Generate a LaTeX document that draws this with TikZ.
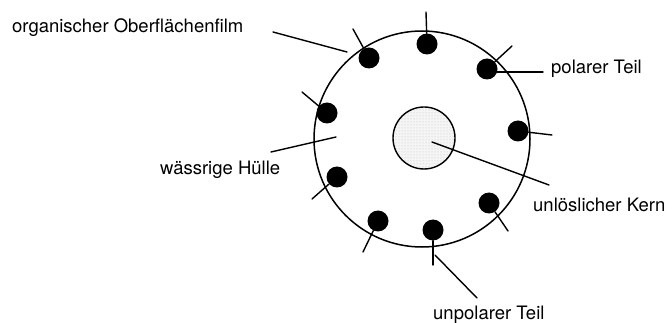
\documentclass[tikz,border=0pt]{standalone}
\usepackage{fontspec}
\setmainfont{TeX Gyre Heros}
\usetikzlibrary{patterns}
\begin{document}
\begin{tikzpicture}[x=1pt,y=-1pt,
  lbl/.style={inner sep=0pt,anchor=base west,font=\fontsize{18.5}{20}\selectfont},
  dot/.style={circle,fill=black,draw=none,minimum size=21pt,inner sep=0pt},
  ln/.style={line width=1.4pt,line cap=round}]
\useasboundingbox (0,0) rectangle (672,323);
% main droplet
\node[circle,draw,line width=1.5pt,minimum size=216pt,inner sep=0pt] (shell) at (422,139) {};
\node[circle,fill=black!4,minimum size=62pt,inner sep=0pt] (corebg) at (424,138) {};
\node[circle,draw,line width=1.4pt,pattern=dots,pattern color=black!25,minimum size=62pt,inner sep=0pt] (core) at (424,138) {};
\coordinate (corec) at (432,142);
% dots
\node[dot] (d1) at (427,44) {};
\node[dot] (d2) at (369,58) {};
\node[dot] (d3) at (487,69) {};
\node[dot] (d4) at (518,131) {};
\node[dot] (d5) at (327,113) {};
\node[dot] (d6) at (337,177) {};
\node[dot] (d7) at (378,221) {};
\node[dot] (d8) at (433,230) {};
\node[dot] (d9) at (489,203) {};
% tails
\coordinate (t1) at (426,12);
\coordinate (t2) at (353,29);
\coordinate (t3) at (512,46);
\coordinate (t4) at (552,135);
\coordinate (t5) at (302,92);
\coordinate (t6) at (312,199);
\coordinate (t7) at (363,252);
\coordinate (t8) at (433,265);
\coordinate (t9) at (508,231);
\foreach \i in {1,...,9} \draw[ln] (d\i) -- (t\i);
% labels
\node[lbl] (org) at (12,33) {organischer Oberflächenfilm};
\node[lbl] (aq) at (160,175) {wässrige Hülle};
\node[lbl] (pol) at (551,74) {polarer Teil};
\node[lbl] (kern) at (533,212) {unlöslicher Kern};
\node[lbl] (unpol) at (433,319) {unpolarer Teil};
% leader lines
\coordinate (a1) at (273,32); \coordinate (a2) at (347,52);
\coordinate (b1) at (271,152); \coordinate (b2) at (336,137);
\coordinate (c1) at (497,72); \coordinate (c2) at (543,72);
\coordinate (e2) at (549,185);
\coordinate (f1) at (435,255); \coordinate (f2) at (477,298);
\draw[ln] (a1) -- (a2);
\draw[ln] (b1) -- (b2);
\draw[ln] (c1) -- (c2);
\draw[ln] (corec) -- (e2);
\draw[ln] (f1) -- (f2);
\end{tikzpicture}
\end{document}
